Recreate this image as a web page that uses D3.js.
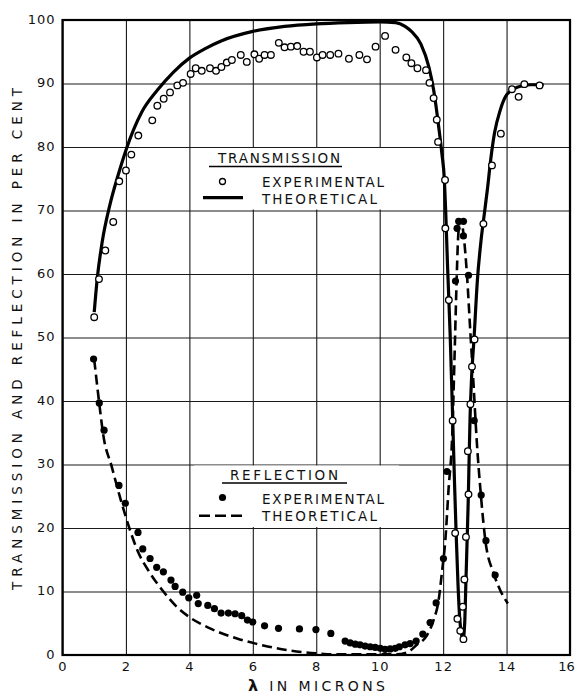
<!DOCTYPE html>
<html>
<head>
<meta charset="utf-8">
<script src="https://cdn.jsdelivr.net/npm/d3@7"></script>
<style>
  html, body { margin: 0; padding: 0; background: #fff; }
  svg { display: block; }
  text { font-family: "DejaVu Sans", sans-serif; fill: #111; }
</style>
</head>
<body>
<svg id="chart" width="576" height="700"></svg>
<script>
// ---------- data ----------
const xTicks = [0, 2, 4, 6, 8, 10, 12, 14, 16];
const yTicks = [0, 10, 20, 30, 40, 50, 60, 70, 80, 90, 100];

// Transmission, experimental (open circles) [lambda, percent]
const transExp = [
  [1.0,53.2],[1.15,59.2],[1.35,63.7],[1.6,68.2],[1.79,74.6],[2.0,76.3],[2.17,78.8],[2.39,81.8],
  [2.83,84.2],[2.99,86.5],[3.19,87.6],[3.39,88.6],[3.62,89.7],[3.8,90.1],[4.04,91.5],[4.2,92.4],
  [4.39,92.0],[4.65,92.4],[4.84,92.0],[5.01,92.6],[5.18,93.3],[5.34,93.7],[5.62,94.5],[5.81,93.4],
  [6.05,94.6],[6.2,93.9],[6.37,94.5],[6.57,94.5],[6.82,96.4],[7.0,95.7],[7.2,95.8],[7.4,95.9],
  [7.6,95.0],[7.8,95.0],[8.02,94.1],[8.2,94.5],[8.44,94.5],[8.7,94.7],[9.03,93.9],[9.36,94.5],
  [9.6,93.8],[9.87,95.8],[10.17,97.5],[10.5,95.3],[10.84,94.1],[11.0,93.2],[11.19,92.4],[11.46,92.1],
  [11.57,90.1],[11.7,87.7],[11.8,84.3],[11.84,80.8],[12.06,74.8],[12.07,67.2],[12.18,55.9],[12.3,36.9],
  [12.38,19.2],[12.45,5.7],[12.54,3.8],[12.64,2.5],[12.62,7.6],[12.67,11.9],[12.72,18.6],[12.8,25.3],
  [12.78,32.1],[12.86,39.5],[12.91,45.4],[12.99,49.7],[13.27,67.9],[13.54,77.1],[13.82,82.1],
  [14.17,89.1],[14.38,87.9],[14.56,89.9],[15.04,89.7]
];

// Transmission, theoretical (solid)
const transTheo = [
  [1.0,54],[1.1,59.5],[1.25,65],[1.5,71],[1.75,75.5],[2.0,79.5],[2.5,85.5],[3.0,89],[3.5,91.8],
  [4.0,94],[4.5,95.5],[5.0,96.7],[6.0,98.2],[7.0,99],[8.0,99.4],[9.0,99.6],[10.0,99.7],[10.5,99.6],
  [10.8,99],[11.0,98.2],[11.3,96.2],[11.55,92.6],[11.7,89],[11.86,83.2],[11.96,79],[12.04,74.8],
  [12.08,70],[12.14,61.2],[12.22,50.7],[12.3,37.5],[12.36,27],[12.41,19.2],[12.47,11],[12.52,6],
  [12.57,3.5],[12.63,2.5],[12.68,5],[12.71,10],[12.75,17],[12.79,24],[12.82,31],[12.85,37.5],
  [12.9,44],[12.97,49.5],[13.08,59],[13.2,65.5],[13.3,69.5],[13.4,73.5],[13.5,78],[13.62,82.2],
  [13.8,85.8],[14.0,88.2],[14.33,89.4],[14.75,89.8],[15.17,89.8]
];

// Reflection, experimental (filled dots)
const reflExp = [
  [0.98,46.6],[1.16,39.7],[1.31,35.4],[1.78,26.7],[1.98,23.9],[2.38,19.3],[2.53,16.7],[2.76,15.2],
  [2.97,13.8],[3.18,13.1],[3.42,11.8],[3.55,10.8],[3.79,9.9],[3.98,9.0],[4.23,9.4],[4.28,8.1],
  [4.58,7.8],[4.79,7.3],[5.0,6.6],[5.23,6.6],[5.44,6.5],[5.65,6.2],[5.83,5.5],[6.0,5.2],[6.37,4.6],
  [6.81,4.2],[7.47,4.1],[7.99,4.0],[8.46,3.4],[8.91,2.2],[9.07,1.9],[9.23,1.7],[9.38,1.6],[9.54,1.4],
  [9.7,1.3],[9.86,1.2],[10.02,1.05],[10.17,0.9],[10.33,0.95],[10.49,1.05],[10.62,1.3],[10.8,1.6],
  [10.96,1.8],[11.15,2.2],[11.36,3.3],[11.59,5.1],[11.78,8.2],[12.01,15.2],[12.12,28.9],[12.39,58.9],
  [12.44,67.2],[12.49,68.3],[12.64,68.3],[12.64,66.0],[12.8,59.8],[12.98,36.9],[13.2,25.2],
  [13.35,18.0],[13.64,12.6]
];

// Reflection, theoretical (dashed)
const reflTheo = [
  [1.0,46.5],[1.15,40],[1.29,34.5],[1.55,29.7],[1.81,24.9],[2.1,20.1],[2.36,16.5],[2.76,12.9],
  [3.18,10],[3.6,7.6],[4.02,5.9],[4.65,4.2],[5.5,2.6],[6.33,1.5],[7.18,0.7],[8.0,0.25],[8.5,0.1],
  [10.5,0.1],[10.86,0.4],[11.17,1.6],[11.49,3.1],[11.7,5.5],[11.86,8.7],[11.96,12.9],[12.07,18.1],
  [12.17,26],[12.29,35],[12.36,47],[12.42,58],[12.47,65.5],[12.53,68.5],[12.58,68.3],[12.64,66.4],
  [12.75,60],[12.86,50.7],[12.96,42.5],[13.05,34.5],[13.19,25.2],[13.33,18.1],[13.59,12.9],
  [13.8,10.2],[14.04,8.1]
];

// ---------- layout ----------
const svg = d3.select("#chart");
const L = 62.5, R = 570, T = 20, B = 655;
const x = d3.scaleLinear().domain([0, 16]).range([L, R]);
const y = d3.scaleLinear().domain([0, 100]).range([B, T]);

// grid + tick labels via axes
const gx = svg.append("g").attr("transform", `translate(0,${B})`)
  .call(d3.axisBottom(x).tickValues(xTicks).tickSize(-(B - T)).tickPadding(7).tickFormat(d3.format("d")));
const gy = svg.append("g").attr("transform", `translate(${L},0)`)
  .call(d3.axisLeft(y).tickValues(yTicks).tickSize(-(R - L)).tickPadding(7).tickFormat(d3.format("d")));
[gx, gy].forEach(g => {
  g.select(".domain").remove();
  g.selectAll("line").attr("stroke", "#1a1a1a").attr("stroke-width", 1.1);
  g.selectAll("text").attr("font-size", 13).attr("letter-spacing", 1)
    .attr("font-family", "DejaVu Sans, sans-serif").attr("fill", "#111");
});
gy.selectAll("text").attr("dy", "0.25em");
gx.selectAll(".tick").filter(d => d === 16).select("text").attr("x", -4).attr("letter-spacing", 0);

// legend background boxes (hide grid)
svg.append("rect").attr("x", 194).attr("y", y(80) + 1).attr("width", 205).attr("height", y(70) - y(80) - 2).attr("fill", "#fff");
svg.append("rect").attr("x", 194).attr("y", y(30) + 1).attr("width", 205).attr("height", y(20) - y(30) - 2).attr("fill", "#fff");

// frame
svg.append("rect").attr("x", L).attr("y", T).attr("width", R - L).attr("height", B - T)
  .attr("fill", "none").attr("stroke", "#000").attr("stroke-width", 2.2);

// curves
const line = d3.line().x(d => x(d[0])).y(d => y(d[1])).curve(d3.curveMonotoneX);
svg.append("path").datum(reflTheo).attr("d", line).attr("fill", "none")
  .attr("stroke", "#000").attr("stroke-width", 2.6).attr("stroke-dasharray", "10,5");
svg.append("path").datum(transTheo).attr("d", line).attr("fill", "none")
  .attr("stroke", "#000").attr("stroke-width", 3.2).attr("stroke-linejoin", "round");

// points
svg.append("g").selectAll("circle").data(reflExp).join("circle")
  .attr("cx", d => x(d[0])).attr("cy", d => y(d[1])).attr("r", 3.6).attr("fill", "#000");
svg.append("g").selectAll("circle").data(transExp).join("circle")
  .attr("cx", d => x(d[0])).attr("cy", d => y(d[1])).attr("r", 3.3)
  .attr("fill", "#fff").attr("stroke", "#000").attr("stroke-width", 1.3);

// legends
function legendText(tx, ty, str, len) {
  svg.append("text").attr("x", tx).attr("y", ty).attr("font-size", 13.5)
    .attr("textLength", len).attr("lengthAdjust", "spacing").text(str);
}
// Transmission legend
legendText(218, 163, "TRANSMISSION", 122);
svg.append("line").attr("x1", 209).attr("x2", 342).attr("y1", 166.5).attr("y2", 166.5).attr("stroke", "#000").attr("stroke-width", 1.4);
svg.append("circle").attr("cx", 222.5).attr("cy", 181.5).attr("r", 3).attr("fill", "#fff").attr("stroke", "#000").attr("stroke-width", 1.3);
legendText(262, 187, "EXPERIMENTAL", 122);
svg.append("line").attr("x1", 203).attr("x2", 243).attr("y1", 197.7).attr("y2", 197.7).attr("stroke", "#000").attr("stroke-width", 3.2);
legendText(262, 203.5, "THEORETICAL", 115);

// Reflection legend
legendText(230, 480, "REFLECTION", 108);
svg.append("line").attr("x1", 222).attr("x2", 347).attr("y1", 483).attr("y2", 483).attr("stroke", "#000").attr("stroke-width", 1.4);
svg.append("circle").attr("cx", 222.5).attr("cy", 497.5).attr("r", 3.6).attr("fill", "#000");
legendText(262, 503.5, "EXPERIMENTAL", 122);
svg.append("line").attr("x1", 199).attr("x2", 244).attr("y1", 515.7).attr("y2", 515.7).attr("stroke", "#000").attr("stroke-width", 2.6).attr("stroke-dasharray", "11,5");
legendText(262, 520.5, "THEORETICAL", 115);

// axis titles
const xt = svg.append("text").attr("x", 248).attr("y", 691).attr("font-size", 14)
  .attr("textLength", 137).attr("lengthAdjust", "spacing");
xt.append("tspan").attr("font-weight", "bold").attr("font-size", 16).text("λ");
xt.append("tspan").text(" IN MICRONS");

svg.append("text").attr("transform", "translate(22,339) rotate(-90)")
  .attr("text-anchor", "middle").attr("font-size", 13.5)
  .attr("textLength", 502).attr("lengthAdjust", "spacing")
  .text("TRANSMISSION AND REFLECTION IN PER CENT");
</script>
</body>
</html>
